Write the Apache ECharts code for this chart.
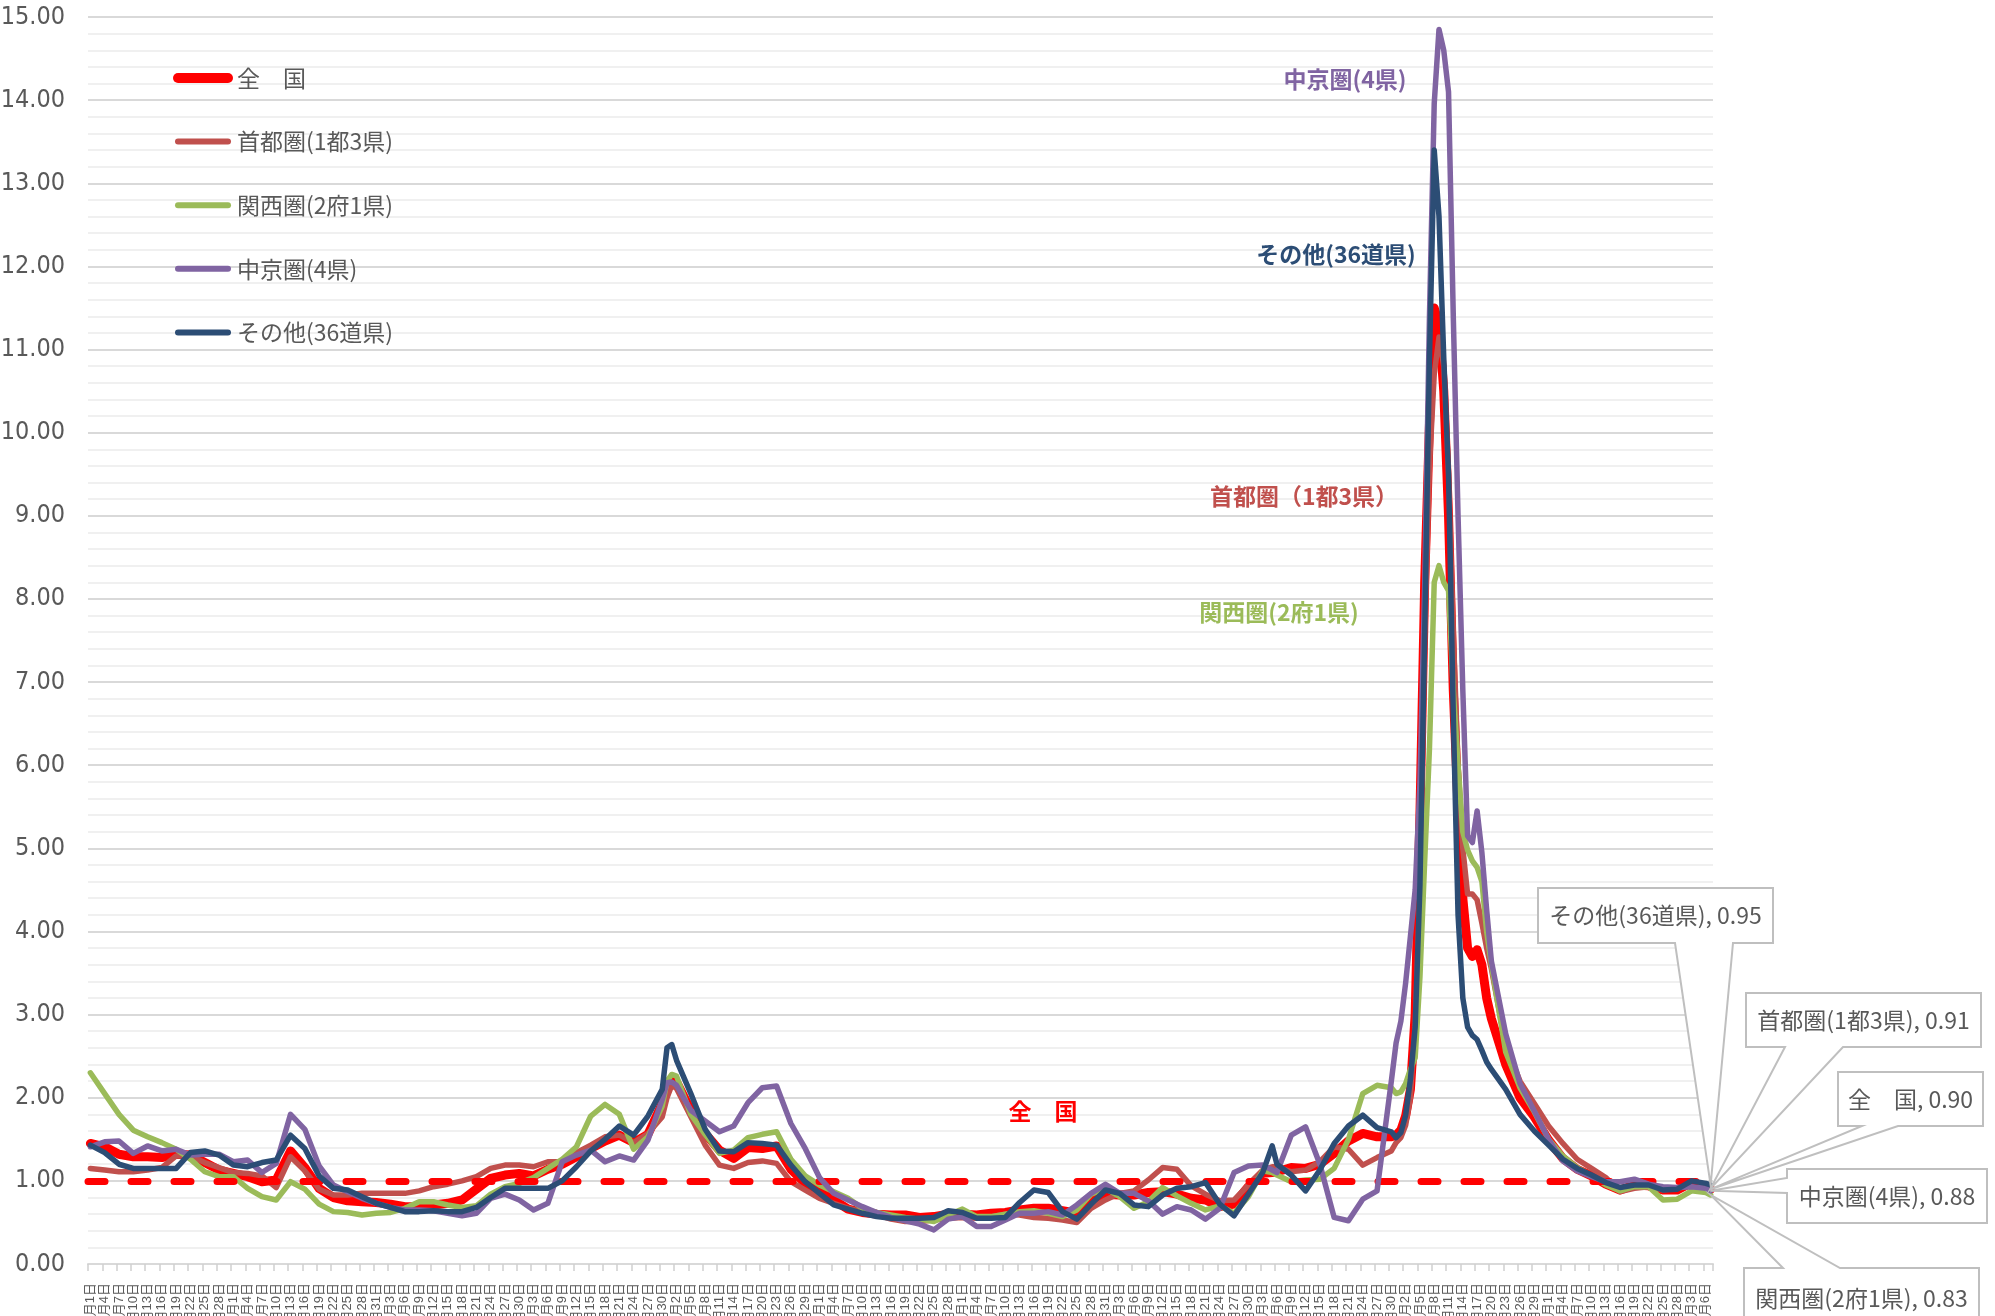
<!DOCTYPE html>
<html><head><meta charset="utf-8">
<script src="https://cdn.jsdelivr.net/npm/echarts@6/dist/echarts.min.js"></script>
<style>html,body{margin:0;padding:0;background:#fff}#c{width:1995px;height:1316px}</style>
</head><body><div id="c"></div>
<script>
// ---- data ----
const startDate = [2021, 4, 1];   // first category (Apr 1, 2021)
const dayCount = 341;             // Apr 1, 2021 .. Mar 7, 2022
const names = ['全　国', '首都圏(1都3県)', '関西圏(2府1県)', '中京圏(4県)', 'その他(36道県)'];
const colors = ['#FF0000', '#C0504D', '#9BBB59', '#8064A2', '#2C4D75'];
const yTicks = [0, 15, 1];

// sample days (offset from startDate)
const days = [
  0,3,6,9,12,15,18,21,24,27,30,33,36,39,42,45,48,51,54,57,60,63,66,69,72,75,78,81,84,87,90,93,96,99,102,105,108,111,114,117,120,
  121,122,
  123,126,129,132,135,138,141,144,147,150,153,156,159,162,165,168,171,174,177,180,183,186,189,192,195,198,201,204,207,210,213,216,219,222,225,228,231,234,237,240,243,246,248,249,252,255,258,261,264,267,270,273,
  274,275,276,277,278,279,280,281,282,283,284,285,286,287,288,289,290,291,292,293,
  294,297,300,303,306,309,312,315,318,321,324,327,330,333,336,339,
  340
];
const zenkoku = [
  1.45,1.41,1.32,1.29,1.29,1.28,1.32,1.31,1.22,1.13,1.09,1.05,0.99,1.01,1.36,1.16,0.91,0.80,0.76,0.75,0.74,0.72,0.69,0.69,0.71,0.73,0.77,0.90,1.03,1.07,1.09,1.06,1.14,1.20,1.29,1.39,1.48,1.55,1.46,1.56,1.93,
  2.10,2.20,
  2.19,1.85,1.57,1.37,1.27,1.40,1.39,1.42,1.14,0.97,0.88,0.77,0.66,0.62,0.60,0.59,0.59,0.56,0.57,0.60,0.60,0.59,0.61,0.62,0.65,0.67,0.67,0.64,0.61,0.75,0.84,0.83,0.83,0.86,0.87,0.84,0.79,0.77,0.69,0.72,0.93,1.09,1.10,1.11,1.16,1.15,1.20,1.33,1.48,1.57,1.53,1.53,
  1.55,1.61,1.78,2.10,3.00,5.40,8.20,10.10,11.50,11.30,10.50,9.00,6.90,5.50,4.40,3.80,3.70,3.78,3.60,3.20,
  2.95,2.40,2.00,1.77,1.49,1.27,1.14,1.06,0.96,0.89,0.95,0.94,0.89,0.89,0.98,0.93,
  0.90
];
const shutoken = [
  1.15,1.13,1.11,1.11,1.13,1.16,1.30,1.30,1.22,1.16,1.10,1.09,1.06,0.92,1.29,1.12,0.90,0.83,0.83,0.85,0.85,0.85,0.85,0.88,0.93,0.96,1.00,1.05,1.15,1.19,1.19,1.17,1.23,1.23,1.34,1.43,1.53,1.55,1.46,1.57,1.77,
  2.00,2.15,
  2.11,1.77,1.43,1.19,1.15,1.22,1.24,1.21,0.99,0.89,0.79,0.73,0.67,0.63,0.59,0.54,0.51,0.51,0.53,0.55,0.56,0.55,0.57,0.60,0.59,0.56,0.55,0.53,0.50,0.67,0.77,0.85,0.88,1.01,1.16,1.14,0.94,0.84,0.76,0.77,0.95,1.13,1.17,1.17,1.11,1.13,1.23,1.41,1.38,1.19,1.28,1.36,
  1.46,1.52,1.67,2.00,2.90,4.50,7.50,9.60,10.70,11.15,10.80,9.50,7.60,6.00,5.00,4.45,4.45,4.38,4.10,3.80,
  3.55,2.63,2.20,1.93,1.66,1.45,1.26,1.15,1.04,0.87,0.91,0.93,0.89,0.91,0.94,0.94,
  0.91
];
const kansai = [
  2.30,2.05,1.80,1.61,1.53,1.46,1.38,1.26,1.11,1.05,1.05,0.91,0.81,0.77,0.99,0.90,0.72,0.63,0.62,0.59,0.61,0.62,0.67,0.75,0.75,0.71,0.68,0.70,0.84,0.93,0.97,1.04,1.15,1.26,1.41,1.78,1.92,1.80,1.38,1.53,1.90,
  2.20,2.28,
  2.26,1.80,1.56,1.33,1.37,1.52,1.56,1.59,1.26,1.06,0.95,0.87,0.79,0.67,0.62,0.59,0.56,0.54,0.51,0.59,0.66,0.57,0.57,0.60,0.63,0.64,0.61,0.57,0.65,0.84,0.91,0.81,0.67,0.75,0.92,0.82,0.73,0.65,0.70,0.61,0.81,1.12,1.10,1.07,0.99,1.01,1.02,1.15,1.50,2.05,2.15,2.12,
  2.05,2.07,2.17,2.34,2.48,3.45,4.85,6.20,8.20,8.40,8.20,8.10,6.90,6.00,5.20,4.98,4.85,4.77,4.60,4.00,
  3.60,2.55,2.12,1.83,1.50,1.30,1.16,1.06,0.95,0.88,0.93,0.93,0.77,0.78,0.88,0.86,
  0.83
];
const chukyo = [
  1.41,1.47,1.48,1.33,1.42,1.36,1.38,1.31,1.32,1.32,1.23,1.25,1.10,1.21,1.80,1.62,1.18,0.95,0.87,0.79,0.73,0.68,0.65,0.65,0.64,0.61,0.58,0.61,0.79,0.84,0.77,0.65,0.73,1.23,1.31,1.37,1.23,1.30,1.25,1.49,1.98,
  2.18,2.19,
  2.15,1.85,1.72,1.59,1.66,1.94,2.12,2.14,1.69,1.39,1.04,0.85,0.77,0.69,0.62,0.56,0.52,0.48,0.41,0.54,0.57,0.45,0.45,0.53,0.61,0.61,0.63,0.59,0.71,0.85,0.96,0.85,0.85,0.76,0.60,0.69,0.65,0.54,0.67,1.10,1.18,1.19,1.13,1.10,1.55,1.65,1.20,0.56,0.52,0.78,0.88,2.20,
  2.66,2.92,3.38,3.94,4.50,5.78,8.16,11.40,13.96,14.85,14.60,14.10,11.40,9.00,6.90,5.15,5.07,5.45,4.95,4.26,
  3.64,2.77,2.17,1.84,1.50,1.24,1.12,1.05,0.99,0.99,1.02,0.96,0.93,0.92,0.93,0.91,
  0.88
];
const sonota = [
  1.43,1.34,1.20,1.15,1.15,1.15,1.15,1.34,1.36,1.31,1.19,1.17,1.22,1.25,1.55,1.39,1.06,0.91,0.89,0.81,0.73,0.68,0.63,0.63,0.64,0.63,0.63,0.68,0.80,0.91,0.91,0.91,0.91,1.00,1.17,1.36,1.50,1.66,1.55,1.78,2.10,
  2.60,2.64,
  2.45,2.05,1.62,1.36,1.35,1.46,1.45,1.43,1.19,0.99,0.85,0.71,0.66,0.61,0.57,0.55,0.55,0.55,0.56,0.64,0.62,0.55,0.55,0.56,0.74,0.89,0.86,0.63,0.54,0.72,0.89,0.85,0.71,0.69,0.83,0.91,0.93,0.98,0.72,0.58,0.84,1.10,1.42,1.20,1.07,0.88,1.13,1.45,1.66,1.79,1.64,1.59,
  1.52,1.58,1.79,2.22,2.85,4.55,7.60,10.90,13.40,12.60,10.90,9.50,6.60,4.20,3.20,2.85,2.75,2.70,2.57,2.43,
  2.34,2.10,1.80,1.60,1.43,1.26,1.15,1.07,0.98,0.92,0.95,0.95,0.89,0.90,1.00,0.97,
  0.95
];
const seriesVals = [zenkoku, shutoken, kansai, chukyo, sonota];

// category labels (calendar dates)
const categories = [];
{
  const d0 = new Date(startDate[0], startDate[1] - 1, startDate[2]);
  for (let i = 0; i < dayCount; i++) {
    const d = new Date(d0.getFullYear(), d0.getMonth(), d0.getDate() + i);
    categories.push((d.getMonth() + 1) + '月' + d.getDate() + '日');
  }
}

// ---- chart ----
const chart = echarts.init(document.getElementById('c'), null, {renderer: 'canvas', width: 1995, height: 1316});
const widths = [9, 5.5, 5.5, 5.5, 5.5];
const GRAY = '#595959';
const CJK = "'Noto Sans CJK JP', sans-serif";

const series = seriesVals.map((vals, i) => ({
  name: names[i], type: 'line', symbol: 'none', showSymbol: false, animation: false,
  data: days.map((d, j) => [d, vals[j]]),
  lineStyle: {color: colors[i], width: widths[i], cap: 'round', join: 'round'},
  itemStyle: {color: colors[i]},
  z: 2 + i
}));
series.push({
  type: 'line', data: [], z: 20, silent: true,
  markLine: {
    silent: true, symbol: 'none', label: {show: false}, animation: false,
    lineStyle: {color: '#FF0000', width: 7, type: [17, 26], cap: 'round'},
    data: [{yAxis: 1}]
  }
});

const option = {
  animation: false,
  backgroundColor: '#ffffff',
  grid: {left: 88, right: 282, top: 17, bottom: 52, outerBoundsMode: 'none', containLabel: false},
  legend: {
    orient: 'vertical', left: 168, top: 61, itemWidth: 50, itemHeight: 14, itemGap: 39.6,
    selectedMode: false,
    textStyle: {fontSize: 23, color: GRAY, fontFamily: CJK, lineHeight: 24, padding: [0, 0, 0, 4]},
    data: names.map((n, i) => ({name: n, itemStyle: {opacity: 0},
      lineStyle: {width: i === 0 ? 10 : 6, cap: 'round', color: colors[i]}}))
  },
  xAxis: {
    type: 'category', data: categories, boundaryGap: true,
    axisLine: {show: true, lineStyle: {color: '#D9D9D9', width: 2}},
    axisTick: {show: true, interval: 2, length: 7, lineStyle: {color: '#D0D0D0', width: 1.5}},
    axisLabel: {interval: 2, rotate: 90, margin: 19, fontSize: 13, color: GRAY,
      fontFamily: "'Liberation Sans','Noto Sans CJK JP',sans-serif"},
    splitLine: {show: false}
  },
  yAxis: {
    type: 'value', min: yTicks[0], max: yTicks[1], interval: yTicks[2],
    axisLine: {show: false}, axisTick: {show: false},
    axisLabel: {formatter: v => v.toFixed(2), fontSize: 25, color: GRAY, margin: 23,
      fontFamily: "'Liberation Sans Narrow','DejaVu Sans Condensed',sans-serif"},
    splitLine: {show: true, lineStyle: {color: '#D9D9D9', width: 2}},
    minorTick: {show: true, splitNumber: 5, length: 0},
    minorSplitLine: {show: true, lineStyle: {color: '#F0F0F0', width: 2}}
  },
  series: series
};
chart.setOption(option);

// ---- annotations and callouts ----
const annos = [
  {t: '中京圏(4県)', c: colors[3], x: 1345, y: 79},
  {t: 'その他(36道県)', c: colors[4], x: 1336, y: 254},
  {t: '首都圏（1都3県）', c: colors[1], x: 1304, y: 496},
  {t: '関西圏(2府1県)', c: colors[2], x: 1279, y: 612},
  {t: '全　国', c: colors[0], x: 1043, y: 1111}
];
const callouts = [
  {s: 4, box: [1538, 888, 1773, 943], side: 'bottom', base: [1675, 1733]},
  {s: 1, box: [1746, 993, 1981, 1047], side: 'bottom', base: [1785, 1843]},
  {s: 0, box: [1838, 1072, 1983, 1126], side: 'bottom', base: [1862, 1898]},
  {s: 3, box: [1787, 1169, 1987, 1223], side: 'left', base: [1178, 1193]},
  {s: 2, box: [1744, 1268, 1979, 1328], side: 'top', base: [1783, 1840]}
];
const graphics = [];
annos.forEach(a => graphics.push({
  type: 'text', x: a.x, y: a.y, z: 50,
  style: {text: a.t, fill: a.c, font: "bold 23px 'Noto Sans CJK JP'", align: 'center', verticalAlign: 'middle'}
}));
const last = days.length - 1;
callouts.forEach(co => {
  const v = seriesVals[co.s][last];
  const tip = chart.convertToPixel({gridIndex: 0}, [days[last], v]);
  const [x0, y0, x1, y1] = co.box, [b0, b1] = co.base;
  let pts;
  if (co.side === 'bottom') pts = [[x0, y0], [x1, y0], [x1, y1], [b1, y1], tip, [b0, y1], [x0, y1]];
  else if (co.side === 'left') pts = [[x0, y0], [x1, y0], [x1, y1], [x0, y1], [x0, b1], tip, [x0, b0]];
  else pts = [[x0, y0], [b0, y0], tip, [b1, y0], [x1, y0], [x1, y1], [x0, y1]];
  graphics.push({type: 'polygon', z: 60, shape: {points: pts},
    style: {fill: '#ffffff', stroke: '#BFBFBF', lineWidth: 2}});
  const cy = co.side === 'top' ? y0 + 30 : (y0 + y1) / 2;
  graphics.push({type: 'text', z: 61, x: (x0 + x1) / 2, y: cy,
    style: {text: names[co.s] + ', ' + v.toFixed(2), fill: GRAY, font: "23px 'Noto Sans CJK JP'",
      align: 'center', verticalAlign: 'middle'}});
});
chart.setOption({graphic: graphics});
</script>
</body></html>
